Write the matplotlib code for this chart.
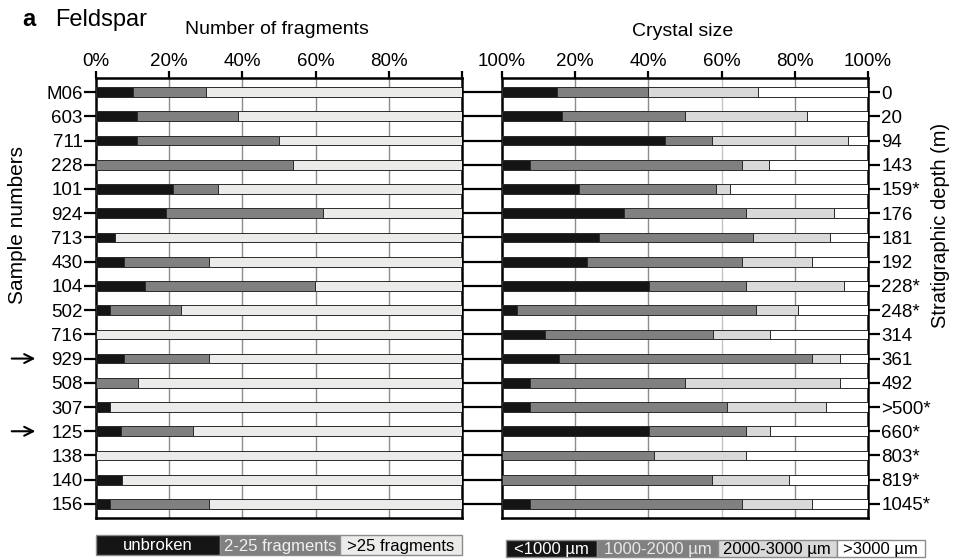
import matplotlib
matplotlib.use('Agg')
import matplotlib.pyplot as plt
import matplotlib.transforms as mtransforms
from matplotlib.patches import Rectangle
import numpy as np

plt.rcParams['font.family'] = ['Liberation Sans', 'DejaVu Sans']

samples = ['M06', '603', '711', '228', '101', '924', '713', '430', '104',
           '502', '716', '929', '508', '307', '125', '138', '140', '156']
depths = ['0', '20', '94', '143', '159*', '176', '181', '192', '228*',
          '248*', '314', '361', '492', '>500*', '660*', '803*', '819*', '1045*']
arrow_samples = ['929', '125']

# Number of fragments (%)
unbroken = [10.0, 11.1, 11.1, 0, 20.9, 19.0, 5.3, 7.7, 13.5,
            3.8, 0, 7.7, 0, 3.8, 6.7, 0, 7.2, 3.9]
frag_2_25 = [20.0, 27.7, 38.8, 53.7, 12.4, 42.9, 0, 23.1, 46.4,
             19.3, 0, 23.1, 11.5, 0, 19.9, 0, 0, 26.9]
frag_gt25 = [70.0, 61.2, 50.1, 46.3, 66.7, 38.1, 94.7, 69.2, 40.1,
             76.9, 100, 69.2, 88.5, 96.2, 73.4, 100, 92.8, 69.2]
frag_labels = ['unbroken', '2-25 fragments', '>25 fragments']

# Crystal size (%)
size_lt1000 = [15.1, 16.5, 44.5, 7.7, 20.9, 33.3, 26.4, 23.1, 40.2,
               4.0, 11.7, 15.5, 7.7, 7.7, 40.2, 0, 0, 7.7]
size_1000_2000 = [24.9, 33.4, 12.8, 57.8, 37.5, 33.3, 42.1, 42.4, 26.5,
                  65.3, 46.0, 69.3, 42.4, 53.9, 26.5, 41.6, 57.3, 57.8]
size_2000_3000 = [29.9, 33.5, 37.3, 7.5, 3.9, 24.0, 21.0, 19.3, 26.8,
                  11.6, 15.4, 7.5, 42.2, 27.0, 6.6, 25.1, 21.2, 19.3]
size_gt3000 = [30.1, 16.6, 5.4, 27.0, 37.7, 9.4, 10.5, 15.2, 6.5,
               19.1, 26.9, 7.7, 7.7, 11.4, 26.7, 33.3, 21.5, 15.2]
size_labels = ['<1000 µm', '1000-2000 µm', '2000-3000 µm', '>3000 µm']

left_ticks = [0, 20, 40, 60, 80, 100]
left_ticklabels = ['0%', '20%', '40%', '60%', '80%', '']
right_ticklabels = ['100%', '20%', '40%', '60%', '80%', '100%']

frag_colors = ['#151515', '#808080', '#ebecea']
size_colors = ['#151515', '#808080', '#d9d9d9', '#ffffff']

fig = plt.figure(figsize=(9.66, 5.6), dpi=100)
ax1 = fig.add_axes([0.0994, 0.075, 0.3789, 0.7857])
ax2 = fig.add_axes([0.5197, 0.075, 0.3789, 0.7857])

y = np.arange(len(samples))
bar_h = 0.4


def stack(ax, series, colors):
    left = np.zeros(len(y))
    for vals, c in zip(series, colors):
        vals = np.array(vals, dtype=float)
        ax.barh(y, vals, left=left, height=bar_h, color=c,
                edgecolor='#2a2a2a', linewidth=0.7, zorder=3)
        left += vals


stack(ax1, [unbroken, frag_2_25, frag_gt25], frag_colors)
stack(ax2, [size_lt1000, size_1000_2000, size_2000_3000, size_gt3000], size_colors)

for ax in (ax1, ax2):
    ax.set_xlim(0, 100)
    ax.set_ylim(len(y) - 0.42, -0.58)
    ax.xaxis.tick_top()
    ax.set_xticks(left_ticks)
    ax.tick_params(axis='x', length=5, width=1.6, pad=1, labelsize=13.5)
    for s in ax.spines.values():
        s.set_linewidth(1.8)
    ax.set_yticks(y)

ax1.vlines([20, 40, 60, 80], -1, len(y) + 1, colors='#8c8c8c', linewidth=1.0, zorder=1)
ax2.vlines([20, 40, 60, 80], -1, len(y) + 1,
           colors=['#8c8c8c', '#8c8c8c', '#c4c4c4', '#8c8c8c'], linewidth=1.0, zorder=1)

ax1.set_xticklabels(left_ticklabels)
ax2.set_xticklabels(right_ticklabels)

ax1.set_yticklabels(samples)
ax1.tick_params(axis='y', length=8.6, width=1.6, labelsize=13.5, pad=1)
ax2.yaxis.tick_right()
ax2.set_yticklabels(depths)
ax2.tick_params(axis='y', length=8.6, width=1.6, labelsize=13.5, pad=1)

# lines joining the two panels
trans = mtransforms.blended_transform_factory(ax1.transAxes, ax1.transData)
ax1.hlines(y, 1.0, 1.0 + 40 / 366, transform=trans, colors='black',
           linewidth=1.6, clip_on=False)

# arrows marking samples
for s in arrow_samples:
    i = samples.index(s)
    ax1.annotate('', xy=(-0.158, i), xytext=(-0.238, i),
                 xycoords=('axes fraction', 'data'),
                 textcoords=('axes fraction', 'data'),
                 arrowprops=dict(arrowstyle='->', lw=1.5, color='black',
                                 mutation_scale=16))

fig.text(18 / 966, 1 - 225 / 560, 'Sample numbers', fontsize=15,
         rotation=90, ha='center', va='center')
fig.text(941 / 966, 1 - 225 / 560, 'Stratigraphic depth (m)', fontsize=14.5,
         rotation=90, ha='center', va='center')

fig.text(22 / 966, 1 - 20 / 560, 'a', fontsize=17, fontweight='bold', va='center')
fig.text(55 / 966, 1 - 20 / 560, 'Feldspar', fontsize=17, va='center')
fig.text(277 / 966, 1 - 30 / 560, 'Number of fragments', fontsize=14,
         ha='center', va='center')
fig.text(683 / 966, 1 - 31 / 560, 'Crystal size', fontsize=14,
         ha='center', va='center')


def legend_bar(rect, labels, colors, widths, text_colors):
    lax = fig.add_axes(rect)
    lax.set_xlim(0, 1)
    lax.set_ylim(0, 1)
    lax.axis('off')
    x0 = 0
    for lab, c, w, tc in zip(labels, colors, widths, text_colors):
        lax.add_patch(Rectangle((x0, 0), w, 1, facecolor=c, edgecolor='#8c8c8c',
                                linewidth=1.0, clip_on=False))
        lax.text(x0 + w / 2, 0.45, lab, ha='center', va='center',
                 fontsize=12, color=tc)
        x0 += w


legend_bar([96 / 966, 1 - 555 / 560, 366 / 966, 20 / 560], frag_labels,
           frag_colors, [0.339, 0.328, 0.333], ['white', '#f0f0f0', 'black'])
legend_bar([506 / 966, 1 - 557 / 560, 419 / 966, 17 / 560], size_labels,
           size_colors, [0.218, 0.287, 0.284, 0.211],
           ['white', '#e8e8e8', 'black', 'black'])

fig.savefig('out.png', dpi=100)
